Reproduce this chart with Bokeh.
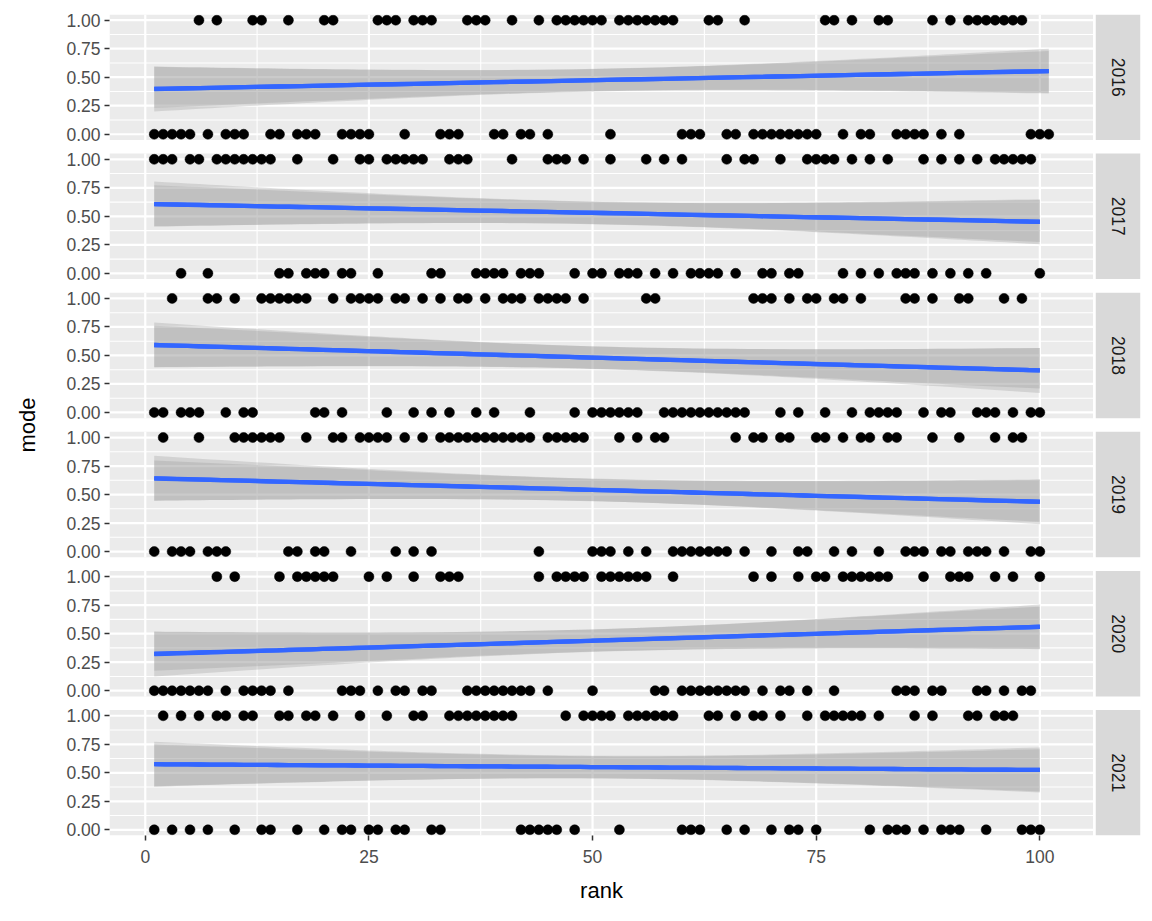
import numpy as np
from bokeh.plotting import figure
from bokeh.layouts import row
from bokeh.models import FixedTicker, Range1d
from bokeh.core.properties import value
from bokeh.embed import file_html
from bokeh.resources import INLINE

# ---------------- data ----------------
years = ["2016", "2017", "2018", "2019", "2020", "2021"]

ones_2016 = [6, 8, 12, 13, 16, 20, 21, 26, 27, 28, 30, 31, 32, 36, 37, 38, 41, 44, 46, 47, 48, 49, 50, 51,
             53, 54, 55, 56, 57, 58, 59, 63, 64, 67, 76, 77, 79, 82, 83, 88, 90, 92, 93, 94, 95, 96, 97, 98]
zeros_2016 = [1, 2, 3, 4, 5, 7, 9, 10, 11, 14, 15, 17, 18, 19, 22, 23, 24, 25, 29, 33, 34, 35, 39, 40, 42, 43,
              45, 52, 60, 61, 62, 65, 66, 68, 69, 70, 71, 72, 73, 74, 75, 78, 80, 81, 84, 85, 86, 87, 89, 91,
              99, 100, 101]

ones_2017 = [1, 2, 3, 5, 6, 8, 9, 10, 11, 12, 13, 14, 17, 21, 24, 25, 27, 28, 29, 30, 31, 34, 35, 36, 41, 45,
             46, 47, 49, 52, 56, 58, 60, 65, 67, 68, 71, 74, 75, 76, 77, 79, 81, 83, 87, 89, 91, 93, 95, 96,
             97, 98, 99]
zeros_2017 = [4, 7, 15, 16, 18, 19, 20, 22, 23, 26, 32, 33, 37, 38, 39, 40, 42, 43, 44, 48, 50, 51, 53, 54, 55,
              57, 59, 61, 62, 63, 64, 66, 69, 70, 72, 73, 78, 80, 82, 84, 85, 86, 88, 90, 92, 94, 100]

ones_2018 = [3, 7, 8, 10, 13, 14, 15, 16, 17, 18, 21, 23, 24, 25, 26, 28, 29, 31, 33, 35, 36, 38, 40, 41, 42,
             44, 45, 46, 47, 49, 56, 57, 68, 69, 70, 72, 74, 75, 77, 78, 80, 85, 86, 88, 91, 92, 96, 98]
zeros_2018 = [1, 2, 4, 5, 6, 9, 11, 12, 19, 20, 22, 27, 30, 32, 34, 37, 39, 43, 48, 50, 51, 52, 53, 54, 55, 58,
              59, 60, 61, 62, 63, 64, 65, 66, 67, 71, 73, 76, 79, 81, 82, 83, 84, 87, 89, 90, 93, 94, 95, 97,
              99, 100]

ones_2019 = [2, 6, 10, 11, 12, 13, 14, 15, 18, 21, 22, 24, 25, 26, 27, 29, 31, 33, 34, 35, 36, 37, 38, 39, 40,
             41, 42, 43, 45, 46, 47, 48, 49, 53, 55, 57, 58, 66, 68, 69, 71, 72, 75, 76, 78, 80, 81, 83, 84,
             88, 91, 95, 97, 98]
zeros_2019 = [1, 3, 4, 5, 7, 8, 9, 16, 17, 19, 20, 23, 28, 30, 32, 44, 50, 51, 52, 54, 56, 59, 60, 61, 62, 63,
              64, 65, 67, 70, 73, 74, 77, 79, 82, 85, 86, 87, 89, 90, 92, 93, 94, 96, 99, 100]

ones_2020 = [8, 10, 15, 17, 18, 19, 20, 21, 25, 27, 30, 33, 34, 35, 44, 46, 47, 48, 49, 51, 52, 53, 54, 55, 56,
             59, 68, 70, 73, 75, 76, 78, 79, 80, 81, 82, 83, 87, 90, 91, 92, 95, 97, 100]
zeros_2020 = [1, 2, 3, 4, 5, 6, 7, 9, 11, 12, 13, 14, 16, 22, 23, 24, 26, 28, 29, 31, 32, 36, 37, 38, 39, 40,
              41, 42, 43, 45, 50, 57, 58, 60, 61, 62, 63, 64, 65, 66, 67, 69, 71, 72, 74, 77, 84, 85, 86, 88,
              89, 93, 94, 96, 98, 99]

ones_2021 = [2, 4, 6, 8, 9, 11, 12, 15, 16, 18, 19, 21, 24, 27, 30, 31, 34, 35, 36, 37, 38, 39, 40, 41, 47, 49,
             50, 51, 52, 54, 55, 56, 57, 58, 59, 63, 64, 66, 68, 69, 71, 74, 76, 77, 78, 79, 80, 82, 86, 88,
             92, 93, 95, 96, 97]
zeros_2021 = [1, 3, 5, 7, 10, 13, 14, 17, 20, 22, 23, 25, 26, 28, 29, 32, 33, 42, 43, 44, 45, 46, 48, 53, 60,
              61, 62, 65, 67, 70, 72, 73, 75, 81, 83, 84, 85, 87, 89, 90, 91, 94, 98, 99, 100]

ones = {"2016": ones_2016, "2017": ones_2017, "2018": ones_2018,
        "2019": ones_2019, "2020": ones_2020, "2021": ones_2021}
zeros = {"2016": zeros_2016, "2017": zeros_2017, "2018": zeros_2018,
         "2019": zeros_2019, "2020": zeros_2020, "2021": zeros_2021}

x_ticks = [0, 25, 50, 75, 100]
x_minor = [12.5, 37.5, 62.5, 87.5]
y_ticks = [0.0, 0.25, 0.5, 0.75, 1.0]
y_minor = [0.125, 0.375, 0.625, 0.875]
y_tick_labels = ["0.00", "0.25", "0.50", "0.75", "1.00"]

# ---------------- layout constants ----------------
FONT = "Liberation Sans"
PX = 8.95           # pixels per rank unit
UPX = 1.1408        # pixels per y data unit (mode * 100)
P = 122             # data units between panel baselines
LEFT = 109
TOP = 14
BOTTOM = 90
STRIP_GAP = 2
STRIP_W = 45
RIGHT_MARGIN = 11

all_x = [r for y in years for r in ones[y] + zeros[y]]
xmin, xmax = min(all_x), max(all_x)
pad = 0.05 * (xmax - xmin)
x0, x1 = xmin - pad, xmax + pad

y_lo = -5
y_hi = 5 * P + 105
frame_w = int(round((x1 - x0) * PX))
frame_h = int(round((y_hi - y_lo) * UPX))

p = figure(frame_width=frame_w, frame_height=frame_h, x_range=Range1d(x0, x1),
           y_range=Range1d(y_lo, y_hi), output_backend="svg", toolbar_location=None,
           min_border_left=LEFT, min_border_right=0, min_border_top=TOP, min_border_bottom=BOTTOM,
           background_fill_color="white", border_fill_color="white")
p.outline_line_color = None
p.xgrid.visible = False
p.ygrid.visible = False


def base_of(i):
    return (len(years) - 1 - i) * P


def fits(x, y, xs):
    X = np.column_stack([np.ones_like(x), x])
    Xs = np.column_stack([np.ones_like(xs), xs])
    n = len(y)
    # linear model with 95% CI
    XtXi = np.linalg.inv(X.T @ X)
    beta = XtXi @ X.T @ y
    resid = y - X @ beta
    s2 = resid @ resid / (n - 2)
    fit = Xs @ beta
    se = np.sqrt(s2 * np.einsum("ij,jk,ik->i", Xs, XtXi, Xs))
    t = 1.984
    lm = (fit, fit - t * se, fit + t * se)
    # logistic model with 95% CI (link scale)
    b = np.zeros(2)
    for _ in range(50):
        eta = X @ b
        pr = 1 / (1 + np.exp(-eta))
        W = pr * (1 - pr)
        H = X.T @ (X * W[:, None])
        g = X.T @ (y - pr)
        step = np.linalg.solve(H, g)
        b = b + step
        if np.max(np.abs(step)) < 1e-10:
            break
    eta = X @ b
    pr = 1 / (1 + np.exp(-eta))
    H = X.T @ (X * (pr * (1 - pr))[:, None])
    cov = np.linalg.inv(H)
    es = Xs @ b
    ses = np.sqrt(np.einsum("ij,jk,ik->i", Xs, cov, Xs))
    ex = lambda v: 1 / (1 + np.exp(-v))
    glm = (ex(es), ex(es - 1.96 * ses), ex(es + 1.96 * ses))
    return lm, glm


for i, yr in enumerate(years):
    b0 = base_of(i)
    bot, top = b0 - 5, b0 + 105
    # panel background
    p.quad(left=[x0], right=[x1], bottom=[bot], top=[top], fill_color="#EBEBEB", line_color=None)
    # minor grid
    p.segment(x0=x_minor, y0=[bot] * len(x_minor), x1=x_minor, y1=[top] * len(x_minor),
              line_color="white", line_width=1.1)
    ym = [b0 + 100 * v for v in y_minor]
    p.segment(x0=[x0] * len(ym), y0=ym, x1=[x1] * len(ym), y1=ym, line_color="white", line_width=1.1)
    # major grid
    p.segment(x0=x_ticks, y0=[bot] * len(x_ticks), x1=x_ticks, y1=[top] * len(x_ticks),
              line_color="white", line_width=2.2)
    yM = [b0 + 100 * v for v in y_ticks]
    p.segment(x0=[x0] * len(yM), y0=yM, x1=[x1] * len(yM), y1=yM, line_color="white", line_width=2.2)

    xr = np.array(ones[yr] + zeros[yr], dtype=float)
    yv = np.array([1.0] * len(ones[yr]) + [0.0] * len(zeros[yr]))
    xs = np.linspace(xr.min(), xr.max(), 80)
    lm, glm = fits(xr, yv, xs)
    p.varea(x=xs, y1=b0 + 100 * lm[1], y2=b0 + 100 * lm[2], fill_color="#999999", fill_alpha=0.3)
    p.varea(x=xs, y1=b0 + 100 * glm[1], y2=b0 + 100 * glm[2], fill_color="#999999", fill_alpha=0.3)
    p.scatter(x=xr, y=b0 + 100 * yv, size=10, fill_color="black", line_color="black", line_width=0.5)
    p.line(x=xs, y=b0 + 100 * lm[0], line_color="#3366FF", line_width=4.3)
    p.line(x=xs, y=b0 + 100 * glm[0], line_color="#3366FF", line_width=4.3)

# axes
yt_pos = []
yt_over = {}
for i, yr in enumerate(years):
    b0 = base_of(i)
    for v, lab in zip(y_ticks, y_tick_labels):
        pos = int(round(b0 + 100 * v))
        yt_pos.append(pos)
        yt_over[pos] = lab

for ax in (p.xaxis[0], p.yaxis[0]):
    ax.axis_line_color = None
    ax.major_tick_line_color = "#333333"
    ax.major_tick_line_width = 1.5
    ax.major_tick_out = 5
    ax.major_tick_in = 0
    ax.minor_tick_line_color = None
    ax.major_label_text_font = FONT
    ax.major_label_text_font_size = "17.5px"
    ax.major_label_text_color = "#4D4D4D"
    ax.major_label_standoff = 4
    ax.axis_label_text_font = FONT
    ax.axis_label_text_font_size = "22px"
    ax.axis_label_text_font_style = "normal"
    ax.axis_label_text_color = "black"

p.xaxis.ticker = FixedTicker(ticks=x_ticks)
p.yaxis.ticker = FixedTicker(ticks=yt_pos)
p.yaxis.major_label_overrides = yt_over
p.xaxis.major_label_standoff = 9
p.xaxis.axis_label = "rank"
p.yaxis.axis_label = "mode"
p.xaxis.axis_label_standoff = 12
p.yaxis.axis_label_standoff = 23

# strips
s = figure(frame_width=STRIP_W, frame_height=frame_h, x_range=Range1d(0, 1),
           y_range=Range1d(y_lo, y_hi), output_backend="svg", toolbar_location=None,
           x_axis_type=None, y_axis_type=None,
           min_border_left=STRIP_GAP, min_border_right=RIGHT_MARGIN, min_border_top=TOP,
           min_border_bottom=BOTTOM, background_fill_color="white", border_fill_color="white")
s.outline_line_color = None
s.xgrid.visible = False
s.ygrid.visible = False
for i, yr in enumerate(years):
    b0 = base_of(i)
    s.quad(left=[0], right=[1], bottom=[b0 - 5], top=[b0 + 105], fill_color="#D9D9D9", line_color=None)
    s.text(x=[0.5], y=[b0 + 50], text=[yr], angle=-np.pi / 2, text_align="center",
           text_baseline="middle", text_font=value(FONT), text_font_size="17.5px", text_color="#1A1A1A")

layout = row(p, s, spacing=0)
open("out.html", "w").write(file_html(layout, INLINE))
